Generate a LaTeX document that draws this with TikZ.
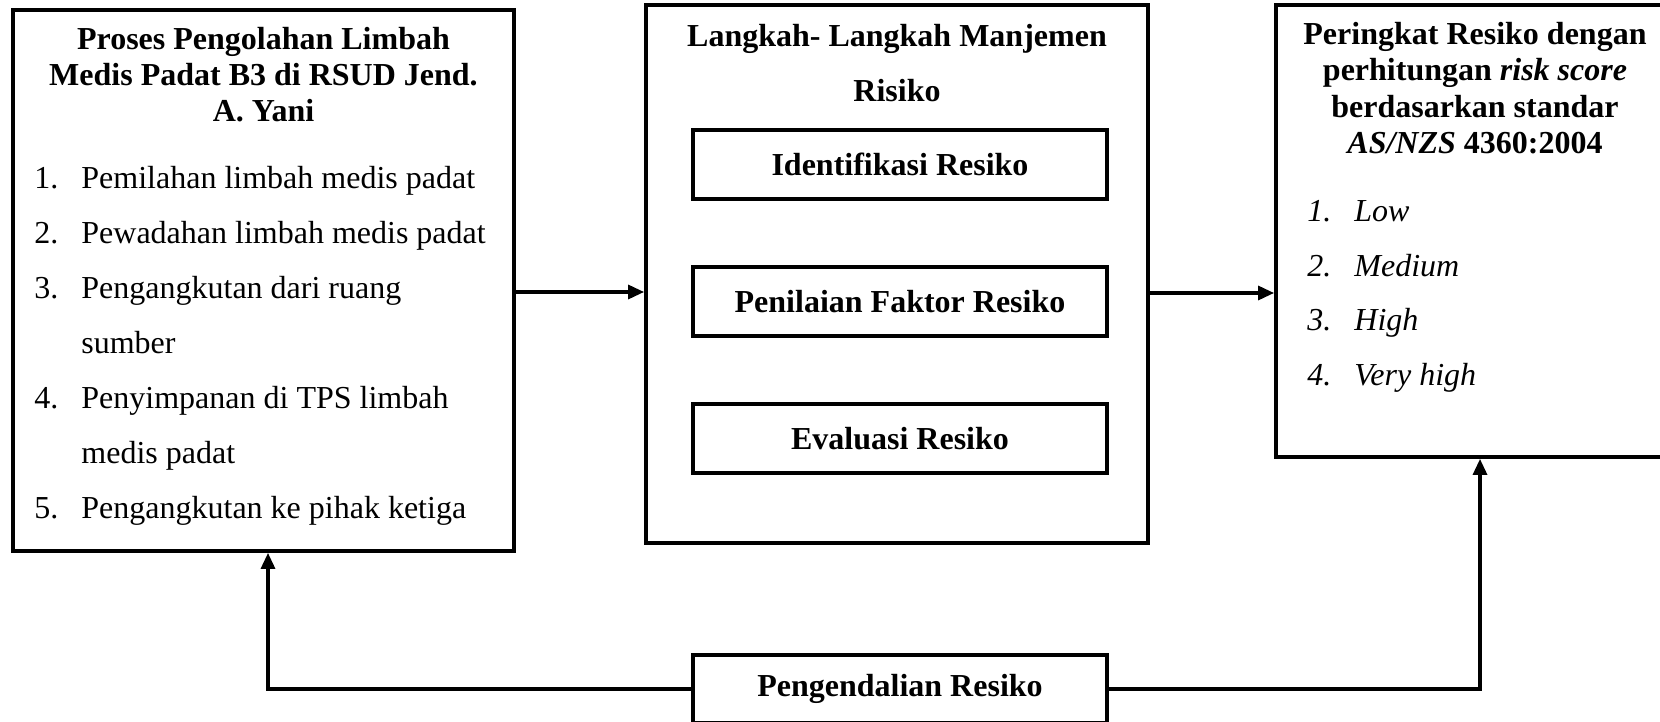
\documentclass[tikz,border=0pt]{standalone}
\usepackage{fontspec}
\setmainfont{Liberation Serif}
\usetikzlibrary{arrows.meta,calc}
\begin{document}
\begin{tikzpicture}[x=0.5pt,y=-0.5pt,
  font=\fontsize{16}{18}\selectfont,
  outerbox/.style={draw, line width=1.9pt, rectangle, inner sep=0pt},
  innerbox/.style={draw, line width=1.6pt, rectangle, inner sep=0pt, minimum width=207pt, minimum height=34.5pt, font=\fontsize{16}{18}\selectfont\bfseries},
  tx/.style={inner sep=0pt, anchor=base},
  lt/.style={inner sep=0pt, anchor=base west},
  arr/.style={line width=1.6pt, -{Triangle[length=8pt,width=7pt]}}]
\clip (0,0) rectangle (1660,722);
\fill[white] (0,0) rectangle (1660,722);

% boxes
\node[outerbox, minimum width=250.5pt, minimum height=270.5pt] (L) at (263.5,280.5) {};
\node[outerbox, minimum width=251pt, minimum height=269pt] (M) at (897,274) {};
\node[outerbox, minimum width=200pt, minimum height=226pt] (R) at (1476,231) {};
\node[innerbox] (I1) at (900,164.5) {Identifikasi Resiko};
\node[innerbox] (I2) at (900,301.5) {Penilaian Faktor Resiko};
\node[innerbox] (I3) at (900,438.5) {Evaluasi Resiko};
\node[innerbox, minimum height=34pt] (P) at (900,689) {Pengendalian Resiko};

% left box text
\node[tx] (Lh1) at (263.5,50) {\textbf{Proses Pengolahan Limbah}};
\node[tx] (Lh2) at (263.5,86) {\textbf{Medis Padat B3 di RSUD Jend.}};
\node[tx] (Lh3) at (263.5,122) {\textbf{A. Yani}};
\node[lt] (Ln1) at (34,188) {1.};
\node[lt] (Lt1) at (81,188) {Pemilahan limbah medis padat};
\node[lt] (Ln2) at (34,243) {2.};
\node[lt] (Lt2) at (81,243) {Pewadahan limbah medis padat};
\node[lt] (Ln3) at (34,298) {3.};
\node[lt] (Lt3) at (81,298) {Pengangkutan dari ruang};
\node[lt] (Lt3b) at (81,353) {sumber};
\node[lt] (Ln4) at (34,408) {4.};
\node[lt] (Lt4) at (81,408) {Penyimpanan di TPS limbah};
\node[lt] (Lt4b) at (81,463) {medis padat};
\node[lt] (Ln5) at (34,518) {5.};
\node[lt] (Lt5) at (81,518) {Pengangkutan ke pihak ketiga};

% middle header
\node[tx] (Mh1) at (897,47) {\textbf{Langkah- Langkah Manjemen}};
\node[tx] (Mh2) at (897,102) {\textbf{Risiko}};

% right box text
\node[tx] (Rh1) at (1475,45) {\textbf{Peringkat Resiko dengan}};
\node[tx] (Rh2) at (1475,81) {\textbf{perhitungan \textit{risk score}}};
\node[tx] (Rh3) at (1475,118) {\textbf{berdasarkan standar}};
\node[tx] (Rh4) at (1475,154) {\textbf{\textit{AS/NZS} 4360:2004}};
\node[lt] (Rn1) at (1307,221) {\textit{1.}};
\node[lt] (Rt1) at (1354,221) {\textit{Low}};
\node[lt] (Rn2) at (1307,276) {\textit{2.}};
\node[lt] (Rt2) at (1354,276) {\textit{Medium}};
\node[lt] (Rn3) at (1307,330) {\textit{3.}};
\node[lt] (Rt3) at (1354,330) {\textit{High}};
\node[lt] (Rn4) at (1307,385) {\textit{4.}};
\node[lt] (Rt4) at (1354,385) {\textit{Very high}};

% connectors
\coordinate (ya) at (0,292);
\coordinate (yb) at (0,293);
\draw[arr] (L.east |- ya) -- (M.west |- ya);
\draw[arr] (M.east |- yb) -- (R.west |- yb);
\draw[arr] (P.west) -| ($(L.south)+(4.5,0)$);
\draw[arr] (P.east) -| ($(R.south)+(4,0)$);
\end{tikzpicture}
\end{document}
